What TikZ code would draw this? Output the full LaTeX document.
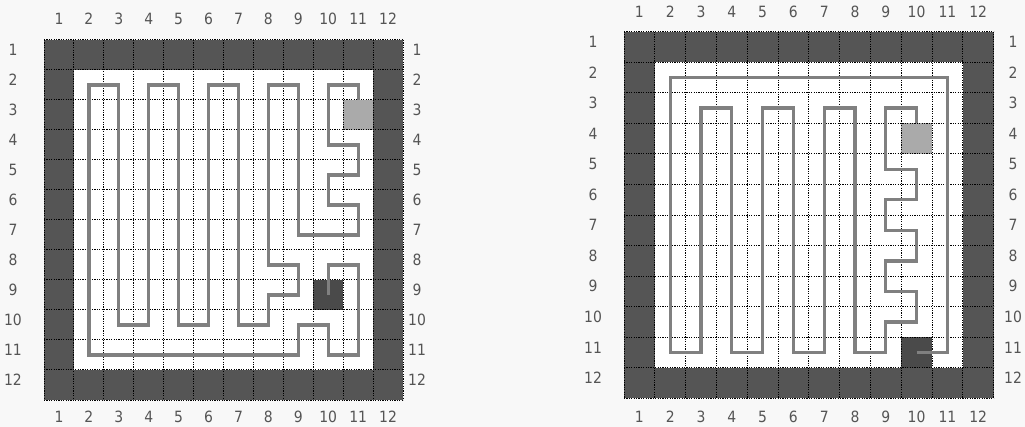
\documentclass[tikz,border=0pt]{standalone}
\usepackage{fontspec}
\setmainfont{DejaVu Sans}
\newfontfamily\lblfont{DejaVu Sans Condensed}
\definecolor{bgc}{HTML}{F8F8F8}
\definecolor{wallc}{HTML}{555555}
\definecolor{startc}{HTML}{4A4A4A}
\definecolor{goalc}{HTML}{AAAAAA}
\definecolor{pathc}{HTML}{808080}
\definecolor{labelc}{HTML}{555555}
\tikzset{
  wall/.style={fill=wallc},
  inner/.style={fill=white},
  gridline/.style={black, line width=1pt, dash pattern=on 1.2pt off 1.2pt},
  route/.style={pathc, line width=3.3pt, line join=miter, line cap=butt},
  lbl/.style={font=\lblfont\fontsize{15.5}{16}\selectfont, text=labelc, inner sep=0pt},
}
\begin{document}
\begin{tikzpicture}[x=1pt,y=-1pt]
\useasboundingbox[fill=bgc] (0,0) rectangle (1025,427);

% ---------- left board ----------
\begin{scope}[shift={(29.04pt,-25pt)}, x=29.92pt, y=-30pt]
  \fill[wall] (0.5,0.5) rectangle (12.5,12.5);
  \fill[inner] (1.5,1.5) rectangle (11.5,11.5);
  \fill[startc] (9.5,8.5) rectangle (10.5,9.5);
  \fill[goalc] (10.5,2.5) rectangle (11.5,3.5);
  \foreach \k in {0.5,1.5,...,12.5} {
    \draw[gridline] (\k,0.5) -- (\k,12.5);
    \draw[gridline] (0.5,\k) -- (12.5,\k);
  }
  \draw[route] (10,9) -- (10,8) -- (11,8) -- (11,11) -- (10,11) -- (10,10) -- (9,10) -- (9,11)
    -- (2,11) -- (2,2) -- (3,2) -- (3,10) -- (4,10) -- (4,2) -- (5,2) -- (5,10) -- (6,10)
    -- (6,2) -- (7,2) -- (7,10) -- (8,10) -- (8,9) -- (9,9) -- (9,8) -- (8,8) -- (8,2)
    -- (9,2) -- (9,7) -- (11,7) -- (11,6) -- (10,6) -- (10,5) -- (11,5) -- (11,4) -- (10,4)
    -- (10,2) -- (11,2) -- (11,2.5);
  \foreach \i in {1,...,12} {
    \node[lbl] (La-t\i) at (\i,-0.2) {\i};
    \node[lbl] (La-b\i) at (\i,13.07) {\i};
    \node[lbl] (La-l\i) at (-0.536,\i-0.183) {\i};
    \node[lbl] (La-r\i) at (12.97,\i-0.183) {\i};
  }
\end{scope}

% ---------- right board ----------
\begin{scope}[shift={(608.6pt,-16.42pt)}, x=30.8pt, y=-30.56pt]
  \fill[wall] (0.5,0.5) rectangle (12.5,12.5);
  \fill[inner] (1.5,1.5) rectangle (11.5,11.5);
  \fill[startc] (9.5,10.5) rectangle (10.5,11.5);
  \fill[goalc] (9.5,3.5) rectangle (10.5,4.5);
  \foreach \k in {0.5,1.5,...,12.5} {
    \draw[gridline] (\k,0.5) -- (\k,12.5);
    \draw[gridline] (0.5,\k) -- (12.5,\k);
  }
  \draw[route] (10,11) -- (11,11) -- (11,2) -- (2,2) -- (2,11) -- (3,11) -- (3,3) -- (4,3)
    -- (4,11) -- (5,11) -- (5,3) -- (6,3) -- (6,11) -- (7,11) -- (7,3) -- (8,3) -- (8,11)
    -- (9,11) -- (9,10) -- (10,10) -- (10,9) -- (9,9) -- (9,8) -- (10,8) -- (10,7) -- (9,7)
    -- (9,6) -- (10,6) -- (10,5) -- (9,5) -- (9,3) -- (10,3) -- (10,3.5);
  \foreach \i in {1,...,12} {
    \node[lbl] (Lb-t\i) at (\i,-0.145) {\i};
    \node[lbl] (Lb-b\i) at (\i,13.11) {\i};
    \node[lbl] (Lb-l\i) at (-0.506,\i-0.17) {\i};
    \node[lbl] (Lb-r\i) at (13.13,\i-0.17) {\i};
  }
\end{scope}
\end{tikzpicture}
\end{document}
